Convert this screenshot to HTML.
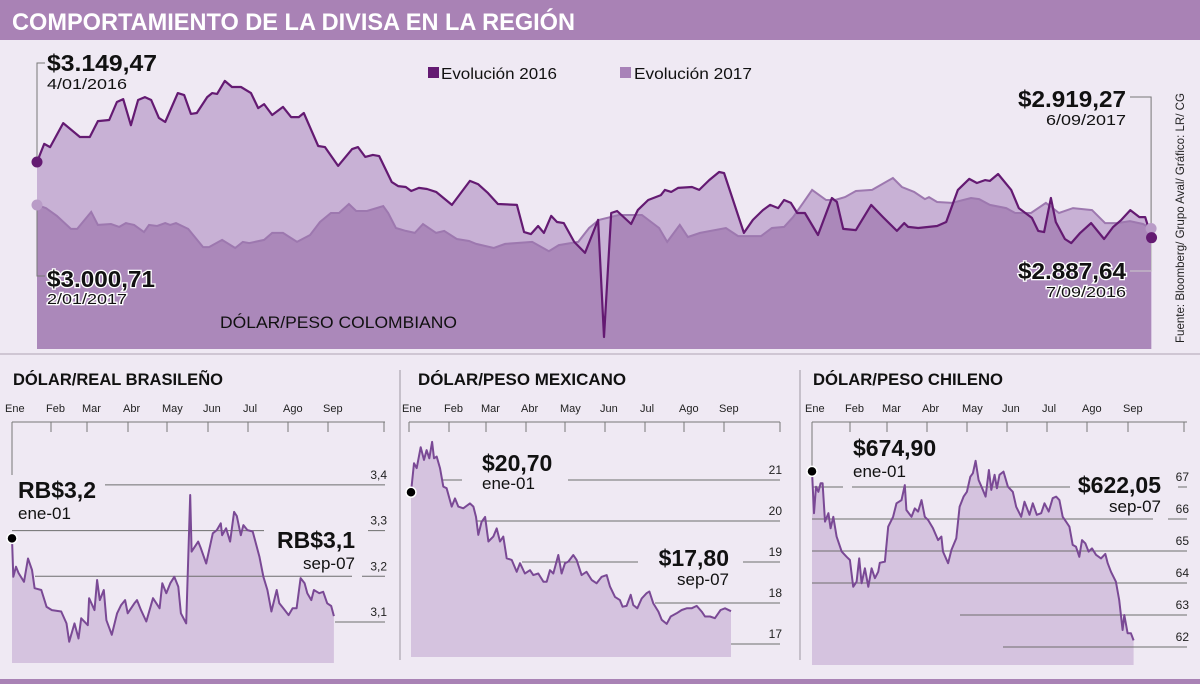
<!DOCTYPE html>
<html><head><meta charset="utf-8"><style>
html,body{margin:0;padding:0;background:#efe9f3;}
svg{display:block;font-family:"Liberation Sans",sans-serif;}
</style></head><body>
<svg id="root" width="1200" height="684" viewBox="0 0 1200 684" xmlns="http://www.w3.org/2000/svg">
<rect x="0" y="0" width="1200" height="684" fill="#efe9f3"/>
<rect x="0" y="0" width="1200" height="40" fill="#a982b5"/>
<text x="12" y="30" fill="#fff" font-size="24" font-weight="bold" textLength="563" lengthAdjust="spacingAndGlyphs">COMPORTAMIENTO DE LA DIVISA EN LA REGIÓN</text>
<rect x="0" y="353" width="1200" height="2" fill="#cfc6d3"/>
<rect x="0" y="679" width="1200" height="5" fill="#a982b5"/>
<g id="main"></g>
<g id="br"></g>
<g id="mx"></g>
<g id="cl"></g>
<line x1="400" y1="370" x2="400" y2="660" stroke="#b9b3bd" stroke-width="1.5"/>
<line x1="800" y1="370" x2="800" y2="660" stroke="#b9b3bd" stroke-width="1.5"/>
<text transform="translate(1184,343) rotate(-90)" font-size="12" fill="#222" textLength="250" lengthAdjust="spacingAndGlyphs">Fuente: Bloomberg/ Grupo Aval/ Gráfico: LR/ CG</text>
</svg>
<script>
// ---------- Colombia data ----------
const days2016 = [0,1.6,2.9,5.8,9.5,11.7,13.5,16,17.7,19.1,20.8,22.4,23.9,25.3,27,28.4,31.2,32.6,34.1,35.4,37.7,38.8,39.9,41.6,43.2,45.2,47.4,49,50.3,52.1,54.5,56.3,58,59.1,62.3,63.8,66.7,69.8,71.1,72.7,74.4,75.8,78.6,80,81.7,82.9,84.6,86.4,88.4,91.9,95.9,97.7,99.9,102.1,106.3,107.9,109.4,111,112.3,113.9,115.2,116.7,119,121.4,124.3,125.6,127.2,128.5,131.6,133.1,135.4,138.2,139.1,140.5,142,145.1,146.7,148.9,151.1,152.2,156.6,158.6,160.8,162.4,164.2,165.5,167,168.4,170.1,173,176.1,177.2,178.6,181.4,184.8,187.4,190.5,192.1,193,195.2,199.4,201.4,204,206.5,208.2,210,211.1,212.9,215.8,217.5,220.4,221.8,223.1,224.6,225.7,227.7,229.1,231.1,233.5,236.4,238.4,240.2,242.2,244.2,245.5,246.9];
const cop2016 = [3149.47,3212,3201,3284,3236,3236,3291,3295,3357,3367,3277,3364,3374,3364,3302,3288,3388,3381,3316,3319,3374,3388,3385,3430,3409,3409,3388,3336,3350,3312,3340,3305,3305,3319,3205,3201,3136,3194,3201,3167,3174,3170,3080,3066,3063,3049,3060,3056,3046,3001,3084,3073,3042,3004,3001,2907,2900,2928,2904,2963,2942,2938,2873,2835,2949,2544,2973,2980,2935,2983,3018,3035,3053,3046,3060,3063,3053,3087,3115,3111,2904,2949,2983,3001,2990,3018,3008,2973,2973,2897,3025,3011,2918,2914,3001,2959,2911,2938,2925,2921,2928,2942,3053,3091,3077,3087,3084,3108,3053,2990,2956,2911,2907,3025,2942,2883,2869,2904,2938,2883,2925,2949,2983,2959,2959,2887.64];
const days2017 = [0,2,4.4,7.5,8.9,12,13.5,16.4,18.2,19.7,21.5,23.7,24.8,26.6,28.4,29.5,30.8,33.5,36.8,38.1,41,43.9,45.6,47,50.3,52.1,54.5,57.6,60.5,62.7,65.1,66.9,69.1,70.7,73.1,76.7,77.8,79.5,81.7,83.7,85.5,88.4,90.2,93,95.7,97.3,101.2,103.7,109.7,113.4,115.6,119.9,122.3,124.5,128.9,131.6,134,137.8,139.6,142.4,144.2,146.9,152.6,155.3,160.4,162.8,165.5,167.5,169.7,171.7,174.8,176.8,179,181.4,185,189.6,191.6,194.3,196.7,197.6,199.4,202.7,206.9,208.7,211.1,214.7,216.7,220.2,223.5,226.4,229.5,233.7,236.6,239.3,242.1,245,246.8];
const cop2017 = [3000.71,2990,2963,2918,2918,2977,2932,2935,2925,2938,2932,2907,2932,2928,2938,2932,2938,2918,2855,2855,2880,2852,2873,2869,2880,2904,2904,2873,2897,2942,2973,2973,3004,2980,2980,2997,2973,2921,2911,2904,2935,2904,2911,2883,2876,2866,2852,2866,2873,2841,2862,2873,2921,2949,2966,2966,2966,2921,2873,2932,2890,2904,2921,2893,2893,2921,2925,2959,3008,3053,3018,3018,3028,3049,3053,3094,3063,3046,3021,3028,3011,3008,3025,3021,3001,2990,2973,2973,3008,2973,2990,2983,2938,2938,2945,2935,2919.27];
// ---------- Small charts data ----------
const monthLabels = ["Ene","Feb","Mar","Abr","May","Jun","Jul","Ago","Sep"];
const brDays = [0,1,3,5,9,12,15,17,22,26,30,37,41,43,47,50,52,57,58,62,64,66,69,71,75,79,82,85,87,92,94,97,101,106,111,113,116,119,122,125,127,131,134,135,140,142,146,151,154,157,158,161,164,167,169,172,174,177,181,186,189,192,195,199,201,204,208,211,214,217,220,222,225,227,231,234,237,240,242];
const brValues = [3.283,3.199,3.221,3.207,3.188,3.239,3.214,3.174,3.170,3.133,3.126,3.123,3.097,3.057,3.097,3.064,3.108,3.093,3.152,3.126,3.192,3.148,3.170,3.104,3.072,3.119,3.137,3.148,3.119,3.141,3.148,3.126,3.101,3.152,3.130,3.185,3.163,3.185,3.199,3.177,3.119,3.097,3.378,3.254,3.276,3.261,3.228,3.294,3.301,3.316,3.290,3.305,3.276,3.341,3.332,3.290,3.312,3.301,3.298,3.243,3.199,3.170,3.123,3.170,3.141,3.130,3.115,3.130,3.130,3.196,3.185,3.163,3.148,3.170,3.163,3.166,3.141,3.135,3.113];
const brTicks = [3.1,3.2,3.3,3.4];
const brTickLabels = ["3,1","3,2","3,3","3,4"];
const mxDays = [1.5,3.8,5.8,8.8,11.3,13.3,15.3,17.4,18.9,20.9,23.4,25.9,28.4,32.2,34.7,37.2,41,46,48.6,50.6,52.3,54.8,57.4,59.9,63.6,66.2,68.7,71.2,73.7,77.5,81.3,83.8,87.5,91.3,93.8,97.6,101.4,103.9,106.4,108.9,112.7,115.2,117.7,120.2,124,126.5,130.3,134,137.9,141.6,145.4,149.2,151.7,155.5,159.2,161.2,164.2,167.3,169.3,172.3,175.6,179.3,181.4,184.4,188.2,190.7,194.5,197.5,202,205.8,209.6,213.3,217.1,220.9,223.4,227.2,230.9,233.4,235.2,238.5,243];
const mxValues = [20.70,21.41,21.29,21.80,21.49,21.73,21.53,21.93,21.53,21.57,21.29,20.84,20.80,20.35,20.55,20.35,20.31,20.43,20.35,20.10,19.66,19.98,20.10,19.50,19.62,19.82,19.50,19.62,19.09,19.05,18.76,18.97,18.72,18.80,18.68,18.72,18.52,18.52,18.80,18.72,19.17,18.72,18.97,19.01,19.17,19.05,18.68,18.76,18.56,18.48,18.64,18.68,18.40,18.15,18.07,17.91,17.93,18.20,17.95,17.87,18.11,18.24,18.28,17.99,17.79,17.59,17.49,17.67,17.75,17.83,17.87,17.87,17.93,17.79,17.67,17.67,17.63,17.75,17.83,17.87,17.80];
const mxTicks = [17,18,19,20,21];
const mxTickLabels = ["17","18","19","20","21"];
const clDays = [0,1.5,3,4.8,6.5,8,9.8,12.3,14,16,18.5,22.3,26,28.5,31,33.5,35.5,37.3,39.8,42.3,44.8,47.3,49.8,51,54.8,57.3,61,63.5,67.3,69.8,71,74.8,77.3,79.8,82.3,84.8,87.3,91,94.8,97.3,98.5,102.3,104.8,108.5,111,114,116.5,119,121,123,125.3,128,130.5,133,134.8,137.3,139,141,144,147.3,151,153.5,157.3,159.8,163.5,166,169,172.3,174.8,178,181,183.5,186,188.5,191,193.5,196,198.5,201,203,205.5,208,210.5,213.5,217.3,220.5,222.3,224.8,228.5,231,233.5,234.8,237.3,239.8,241.8];
const clValues = [674.9,661.8,670.1,668.5,671.2,671.2,659.2,661.8,657.1,660.7,654.5,649.8,648.2,647.2,638.8,640.4,647.7,639.9,644.6,638.8,644.6,641.5,643.5,646.3,646.7,657.6,660.7,664.9,665.9,670.6,662.8,660.7,663.3,662.3,665.9,660.7,659.7,657.1,653.4,654.5,649.8,646.2,650.3,654.0,663.8,667.0,668.5,673.2,674.3,678.2,672.2,669.6,667.0,675.3,669.1,673.8,669.6,673.8,674.8,670.1,668.5,663.8,660.7,665.4,661.3,664.9,661.3,661.8,664.9,662.3,666.5,667.0,665.9,660.7,659.2,657.6,651.9,651.3,648.2,653.4,652.4,649.8,650.8,648.8,647.7,649.1,646.2,643.5,640.4,634.7,625.3,630.0,624.3,624.3,622.05];
const clTicks = [620,630,640,650,660,670];
const clTickLabels = ["62","63","64","65","66","67"];

const NS = "http://www.w3.org/2000/svg";
function mk(parent, tag, attrs, text){
  const e = document.createElementNS(NS, tag);
  for (const k in attrs) e.setAttribute(k, attrs[k]);
  if (text !== undefined) e.textContent = text;
  parent.appendChild(e);
  return e;
}

// ---------- Colombia chart ----------
(function(){
  const g = document.getElementById('main');
  const x = d => 37 + d * (1115 / 247);
  const y = v => 205 - (v - 3000.71) * 0.289;
  const base = 349;
  const line = (ds, vs) => ds.map((d,i)=>(i?'L':'M')+x(d).toFixed(1)+','+y(vs[i]).toFixed(1)).join('');
  const area = (ds, vs) => line(ds,vs)+'L'+x(ds[ds.length-1]).toFixed(1)+','+base+'L'+x(ds[0]).toFixed(1)+','+base+'Z';
  const defs = mk(g,'defs',{});
  const cp = mk(defs,'clipPath',{id:'clip16'});
  mk(cp,'path',{d:area(days2016,cop2016)});
  let e;
  e = mk(g,'path',{d:area(days2016,cop2016),fill:'#c8b1d5'});
  
  
  e = mk(g,'path',{d:area(days2017,cop2017),fill:'#c8b1d5'});
  
  
  e = mk(g,'path',{d:area(days2017,cop2017),fill:'#ab88ba','clip-path':'url(#clip16)'});
  
  
  e = mk(g,'path',{d:line(days2017,cop2017),fill:'none',stroke:'#9d78af','stroke-width':2});
  
  
  e = mk(g,'path',{d:line(days2016,cop2016),fill:'none',stroke:'#641a72','stroke-width':2.2,'stroke-linejoin':'round'});
  
  
  const s16 = [x(days2016[0]), y(cop2016[0])], e16 = [x(days2016[days2016.length-1]), y(cop2016[cop2016.length-1])];
  const s17 = [x(days2017[0]), y(cop2017[0])], e17 = [x(days2017[days2017.length-1]), y(cop2017[cop2017.length-1])];
  e = mk(g,'path',{d:`M${s16[0]},${s16[1]-4}V63H45`,fill:'none',stroke:'#777','stroke-width':1});
  
  
  e = mk(g,'path',{d:`M${s17[0]},${s17[1]+4}V276H45`,fill:'none',stroke:'#777','stroke-width':1});
  
  
  e = mk(g,'path',{d:`M1130,97H${e17[0]}V${e17[1]-4}`,fill:'none',stroke:'#777','stroke-width':1});
  
  
  e = mk(g,'path',{d:`M${e16[0]},${e16[1]+4}V271H1130`,fill:'none',stroke:'#ccc','stroke-width':1});
  
  
  e = mk(g,'circle',{cx:s16[0],cy:s16[1],r:5.5,fill:'#641a72'});
  
  
  e = mk(g,'circle',{cx:s17[0],cy:s17[1],r:5.5,fill:'#b99cc7'});
  
  
  e = mk(g,'circle',{cx:e17[0],cy:e17[1],r:5.5,fill:'#b99cc7'});
  
  
  e = mk(g,'circle',{cx:e16[0],cy:e16[1],r:5.5,fill:'#641a72'});
  
  
  const T = (tx,ty,txt,size,bold,anchor,name,halo,len)=>{
    const a = {x:tx,y:ty,'font-size':size,fill:'#111'};
    if (bold) a['font-weight']='bold';
    if (anchor) a['text-anchor']=anchor;
    if (halo){a.stroke='#fff';a['stroke-width']=2.5;a['paint-order']='stroke';}
    if (len){a.textLength=len;a.lengthAdjust='spacingAndGlyphs';}
    const t = mk(g,'text',a,txt);
    
    
  };
  T(47,71,'$3.149,47',23,true,null,'label-start-2016-value',false,110);
  T(47,89,'4/01/2016',15,false,null,'label-start-2016-date',false,80);
  T(47,287,'$3.000,71',23,true,null,'label-start-2017-value',true,108);
  T(47,304,'2/01/2017',15,false,null,'label-start-2017-date',true,80);
  T(1126,107,'$2.919,27',23,true,'end','label-end-2017-value',false,108);
  T(1126,125,'6/09/2017',15,false,'end','label-end-2017-date',false,80);
  T(1126,279,'$2.887,64',23,true,'end','label-end-2016-value',true,108);
  T(1126,297,'7/09/2016',15,false,'end','label-end-2016-date',true,80);
  T(220,328,'DÓLAR/PESO COLOMBIANO',17,false,null,'colombia-chart-title',false,237);
  e = mk(g,'rect',{x:428,y:67,width:11,height:11,fill:'#641a72'});
  
  
  T(441,79,'Evolución 2016',16,false,null,'legend-label-2016',false,116);
  e = mk(g,'rect',{x:620,y:67,width:11,height:11,fill:'#a882b8'});
  
  
  T(634,79,'Evolución 2017',16,false,null,'legend-label-2017',false,118);
})();

// ---------- Small chart builder ----------
function smallChart(cfg){
  const g = document.getElementById(cfg.id);
  const x = d => cfg.x0 + d * cfg.dx;
  const y = v => cfg.yBase - (v - cfg.vBase) * cfg.k;
  let e;
  e = mk(g,'text',{x:cfg.titleX,y:385,'font-size':17,'font-weight':'bold',fill:'#111',textLength:cfg.titleLen,lengthAdjust:'spacingAndGlyphs'},cfg.title);
  
  
  e = mk(g,'line',{x1:cfg.x0,y1:422,x2:cfg.axisEnd,y2:422,stroke:'#777','stroke-width':1});
  
  
  cfg.monthX.forEach((mx,i)=>{
    const t = mk(g,'line',{x1:mx,y1:422,x2:mx,y2:(i===0?cfg.eneTickEnd:432),stroke:'#777','stroke-width':1});
    
    
    if (i < monthLabels.length){
      const l = mk(g,'text',{x:mx+(i===0?-7:-5),y:412,'font-size':11,fill:'#222'},monthLabels[i]);
      
      
    }
  });
  const pts = cfg.days.map((d,i)=>x(d).toFixed(1)+','+y(cfg.values[i]).toFixed(1));
  const lastX = x(cfg.days[cfg.days.length-1]).toFixed(1), firstX = x(cfg.days[0]).toFixed(1);
  e = mk(g,'path',{d:'M'+pts.join('L')+'L'+lastX+','+cfg.bottom+'L'+firstX+','+cfg.bottom+'Z',fill:'#d5c3df'});
  
  
  cfg.ticks.forEach((v,i)=>{
    const gy = y(v);
    const gl = mk(g,'line',{x1:cfg.gridFrom[i],y1:gy,x2:cfg.axisEnd,y2:gy,stroke:'#6e6e6e','stroke-width':1});
    
    
    const tl = mk(g,'text',{x:cfg.axisEnd+2,y:gy-6,'font-size':12,fill:'#222','text-anchor':'end'},cfg.tickLabels[i]);
    
    
  });
  cfg.gaps.forEach(gp=>{
    const r = mk(g,'rect',{x:gp[0],y:gp[1],width:gp[2],height:gp[3],fill:'#efe9f3'});
    
    
  });
  e = mk(g,'path',{d:'M'+pts.join('L'),fill:'none',stroke:'#7a4995','stroke-width':2,'stroke-linejoin':'round'});
  
  
  e = mk(g,'circle',{cx:x(cfg.days[0]),cy:y(cfg.values[0]),r:5,fill:'#000',stroke:'#fff','stroke-width':1.5});
  
  
  cfg.labels.forEach(L=>{
    const a = {x:L[0],y:L[1],'font-size':L[3]?23:17,fill:'#111'};
    if (L[3]) a['font-weight']='bold';
    if (L[4]) a['text-anchor']='end';
    const t = mk(g,'text',a,L[2]);
    
    
  });
}

smallChart({id:'br',title:'DÓLAR/REAL BRASILEÑO',titleX:13,titleLen:210,x0:12,dx:1.33,yBase:622,vBase:3.1,k:457,axisEnd:385,bottom:663,eneTickEnd:475,
  monthX:[12,51,87,128,167,208,248,288,328,384],days:brDays,values:brValues,ticks:brTicks,tickLabels:brTickLabels,
  gridFrom:[335,35,12,105],gaps:[[264,522,104,14],[352,570,10,14]],
  labels:[[18,498,'RB$3,2',true,false],[18,519,'ene-01',false,false],[355,548,'RB$3,1',true,true],[355,569,'sep-07',false,true]]});
smallChart({id:'mx',title:'DÓLAR/PESO MEXICANO',titleX:418,titleLen:208,x0:409,dx:1.325,yBase:644,vBase:17,k:41,axisEnd:780,bottom:657,eneTickEnd:432,
  monthX:[409,449,486,526,565,605,645,684,724,780],days:mxDays,values:mxValues,ticks:mxTicks,tickLabels:mxTickLabels,
  gridFrom:[731,655,522,477,442],gaps:[[462,474,106,12],[638,556,105,12]],
  labels:[[482,471,'$20,70',true,false],[482,489,'ene-01',false,false],[729,566,'$17,80',true,true],[729,585,'sep-07',false,true]]});
smallChart({id:'cl',title:'DÓLAR/PESO CHILENO',titleX:813,titleLen:190,x0:812,dx:1.33,yBase:647,vBase:620,k:3.2,axisEnd:1187,bottom:665,eneTickEnd:470,
  monthX:[812,850,887,927,967,1007,1047,1087,1128,1184],days:clDays,values:clValues,ticks:clTicks,tickLabels:clTickLabels,
  gridFrom:[1003,960,812,812,812,812],gaps:[[843,481,9,12],[1070,481,108,12],[1153,513,15,12]],
  labels:[[853,456,'$674,90',true,false],[853,477,'ene-01',false,false],[1161,493,'$622,05',true,true],[1161,512,'sep-07',false,true]]});
</script>
</body></html>
